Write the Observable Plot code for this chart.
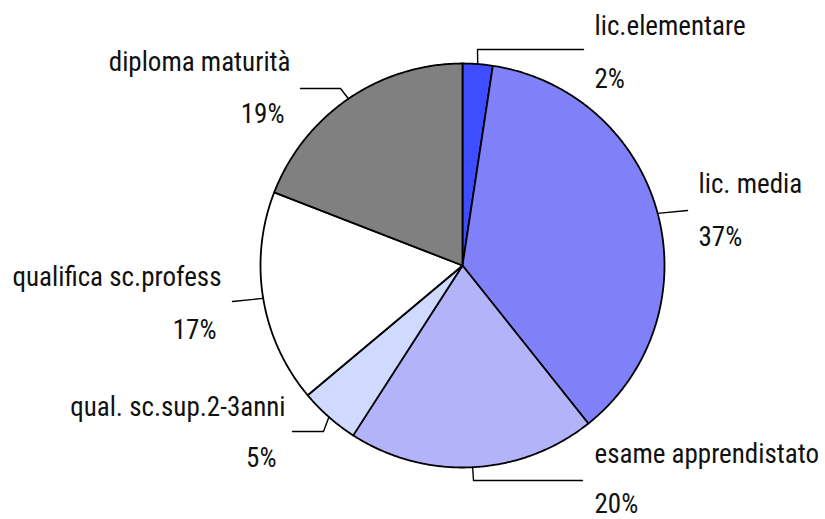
<!DOCTYPE html>
<html>
<head>
<meta charset="utf-8">
<script src="https://cdn.jsdelivr.net/npm/d3@7"></script>
<script src="https://cdn.jsdelivr.net/npm/@observablehq/plot@0.6"></script>
<style>
  html, body { margin: 0; padding: 0; background: #fff; }
  #chart { width: 825px; height: 519px; }
</style>
</head>
<body>
<div id="chart"></div>
<script>
// ---- data ----
const categories = ["lic.elementare", "lic. media", "esame apprendistato", "qual. sc.sup.2-3anni", "qualifica sc.profess", "diploma maturità"];
const shares = [2.4, 36.9, 19.8, 4.8, 17.0, 19.1];
const colors = ["#3d4dff", "#8080f8", "#b3b3f9", "#d0d9ff", "#ffffff", "#808080"];

// ---- layout (pixels) ----
const W = 825, H = 519;
const cx = 462, cy = 265, R = 202;
// leader line elbows and ends
const leaderElbow = [[477, 49], null, [473, 480], [323, 431], null, [340, 88]];
const leaderEnd = [[583, 49], [687, 210], [582, 480], [292, 431], [232, 301], [300, 88]];
// label positions [x, baseline, anchor]
const namePos = [[594, 34, "start"], [698, 192, "start"], [594, 462, "start"], [285, 415, "end"], [221, 285, "end"], [290, 70, "end"]];
const pctPos = [[594, 87, "start"], [698, 245, "start"], [594, 512, "start"], [276, 466, "end"], [216, 338, "end"], [284, 122, "end"]];

// font selection
function hasFont(f) {
  const c = document.createElement("canvas").getContext("2d");
  const s = "esame apprendistato 37%";
  c.font = "40px monospace"; const a = c.measureText(s).width;
  c.font = `40px "${f}", monospace`; const b = c.measureText(s).width;
  return Math.abs(a - b) > 0.5;
}
const fam = ["Roboto Condensed", "Liberation Sans Narrow", "Arial Narrow", "Roboto"].find(hasFont) || "sans-serif";
const ctx = document.createElement("canvas").getContext("2d");
ctx.font = `40px "${fam}"`;
const fontSize = Math.min(27, 40 * 226 / ctx.measureText("esame apprendistato").width);

// ---- geometry ----
const total = d3.sum(shares);
let acc = 0;
const slices = shares.map((v, i) => {
  const a0 = acc / total * 2 * Math.PI;
  acc += v;
  const a1 = acc / total * 2 * Math.PI;
  const pts = [{x: cx, y: cy}];
  const n = Math.max(2, Math.ceil((a1 - a0) / (Math.PI / 360)));
  for (let k = 0; k <= n; k++) {
    const a = a0 + (a1 - a0) * k / n;
    pts.push({x: cx + R * Math.sin(a), y: cy - R * Math.cos(a)});
  }
  const am = (a0 + a1) / 2;
  const anchor = {x: cx + R * Math.sin(am), y: cy - R * Math.cos(am)};
  return {i, label: categories[i], value: v, color: colors[i], pts, anchor};
});

const leaders = slices.map((s, i) => {
  const p = [s.anchor];
  if (leaderElbow[i]) p.push({x: leaderElbow[i][0], y: leaderElbow[i][1]});
  p.push({x: leaderEnd[i][0], y: leaderEnd[i][1]});
  return p;
});

const nameData = slices.map((s, i) => ({x: namePos[i][0], y: namePos[i][1], anchor: namePos[i][2], text: s.label}));
const pctData = slices.map((s, i) => ({x: pctPos[i][0], y: pctPos[i][1], anchor: pctPos[i][2], text: Math.round(s.value) + "%"}));

const marks = [];
slices.forEach(s => marks.push(Plot.line(s.pts, {x: "x", y: "y", fill: s.color, stroke: "#000", strokeWidth: 1.8, curve: "linear-closed", strokeLinejoin: "round"})));
leaders.forEach(p => marks.push(Plot.line(p, {x: "x", y: "y", stroke: "#000", strokeWidth: 1.4})));
["start", "end"].forEach(an => {
  marks.push(Plot.text(nameData.filter(d => d.anchor === an), {x: "x", y: "y", text: "text", textAnchor: an, lineAnchor: "bottom", fill: "#111", fontSize}));
  marks.push(Plot.text(pctData.filter(d => d.anchor === an), {x: "x", y: "y", text: "text", textAnchor: an, lineAnchor: "bottom", fill: "#111", fontSize}));
});

const chart = Plot.plot({
  width: W, height: H,
  margin: 0,
  style: {fontFamily: `"${fam}", Roboto, sans-serif`, background: "#fff", overflow: "visible"},
  x: {domain: [0, W], range: [0, W], axis: null},
  y: {domain: [0, H], range: [0, H], axis: null},
  marks
});
document.getElementById("chart").appendChild(chart);
</script>
</body>
</html>
